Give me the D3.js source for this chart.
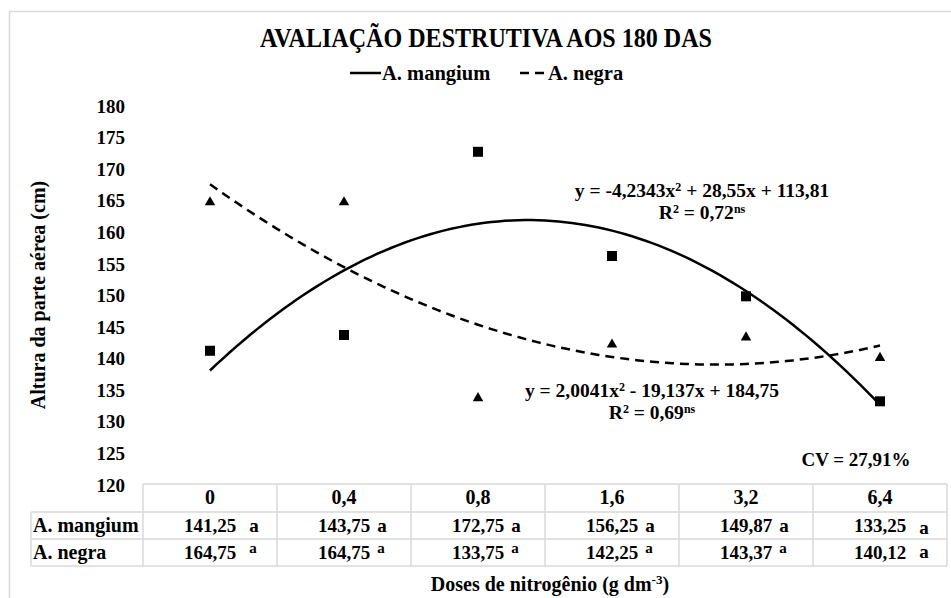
<!DOCTYPE html>
<html>
<head>
<meta charset="utf-8">
<script src="https://cdn.jsdelivr.net/npm/d3@7"></script>
<style>
  html, body { margin: 0; padding: 0; background: #fff; }
</style>
</head>
<body>
<svg id="chart" width="951" height="598"></svg>
<script>
// ---- data ----
const categories = ["0", "0,4", "0,8", "1,6", "3,2", "6,4"];
const mangium = [141.25, 143.75, 172.75, 156.25, 149.87, 133.25];
const negra = [164.75, 164.75, 133.75, 142.25, 143.37, 140.12];
const mangiumLabels = ["141,25", "143,75", "172,75", "156,25", "149,87", "133,25"];
const negraLabels = ["164,75", "164,75", "133,75", "142,25", "143,37", "140,12"];
const mangiumLetters = ["a", "a", "a", "a", "a", "a"];
const negraLetters = ["a", "a", "a", "a", "a", "a"];
const yTicks = [120, 125, 130, 135, 140, 145, 150, 155, 160, 165, 170, 175, 180];
const seriesNames = ["A. mangium", "A. negra"];
const eqMangium = { eq: "y = -4,2343x", rest: " + 28,55x + 113,81", r2: "0,72" };
const eqNegra = { eq: "y = 2,0041x", rest: " - 19,137x + 184,75", r2: "0,69" };
const cvText = "CV = 27,91%";

// ---- layout ----
const FONT = '"Liberation Serif"';
const svg = d3.select("#chart");
const plotLeft = 143, plotRight = 947, plotTop = 106, plotBottom = 485;

// outer border
svg.append("rect").attr("x", 9.5).attr("y", 11.5).attr("width", 960).attr("height", 620)
  .attr("fill", "none").attr("stroke", "#d9d9d9").attr("stroke-width", 1.5);

const x = d3.scaleBand().domain(categories).range([plotLeft, plotRight]).padding(0);
const y = d3.scaleLinear().domain([120, 180]).range([plotBottom, plotTop]);
const xi = d3.scaleLinear().domain([1, categories.length])
  .range([x(categories[0]) + x.bandwidth() / 2, x(categories[categories.length - 1]) + x.bandwidth() / 2]);

// title
svg.append("text").attr("x", 486).attr("y", 47).attr("text-anchor", "middle")
  .attr("textLength", 452).attr("lengthAdjust", "spacingAndGlyphs")
  .style("font-size", "27px").text("AVALIAÇÃO DESTRUTIVA AOS 180 DAS");

// y axis
const yAxis = d3.axisLeft(y).tickValues(yTicks).tickSize(0).tickPadding(18).tickFormat(d3.format("d"));
const gy = svg.append("g").attr("transform", `translate(${plotLeft},0)`).call(yAxis);
gy.select(".domain").remove();
gy.attr("font-family", null).attr("font-size", null);
gy.selectAll("text").style("font-size", "19px");

// y axis title
svg.append("text").attr("transform", "translate(45,295) rotate(-90)").attr("text-anchor", "middle")
  .style("font-size", "20px").text("Altura da parte aérea (cm)");

// quadratic least-squares fit over category index
function quadFit(vals) {
  let S = [0, 0, 0, 0, 0], T = [0, 0, 0];
  vals.forEach((v, i) => {
    const t = i + 1;
    for (let k = 0; k < 5; k++) S[k] += Math.pow(t, k);
    for (let k = 0; k < 3; k++) T[k] += v * Math.pow(t, k);
  });
  const A = [[S[0], S[1], S[2], T[0]], [S[1], S[2], S[3], T[1]], [S[2], S[3], S[4], T[2]]];
  for (let i = 0; i < 3; i++) {
    for (let j = i + 1; j < 3; j++) {
      const f = A[j][i] / A[i][i];
      for (let k = i; k < 4; k++) A[j][k] -= f * A[i][k];
    }
  }
  const sol = [0, 0, 0];
  for (let i = 2; i >= 0; i--) {
    let s = A[i][3];
    for (let k = i + 1; k < 3; k++) s -= A[i][k] * sol[k];
    sol[i] = s / A[i][i];
  }
  return t => sol[0] + sol[1] * t + sol[2] * t * t;
}

const fitM = quadFit(mangium), fitN = quadFit(negra);
const ts = d3.range(1, categories.length + 0.001, 0.05);
const line = d3.line().x(d => xi(d[0])).y(d => y(d[1])).curve(d3.curveLinear);

svg.append("path").datum(ts.map(t => [t, fitM(t)])).attr("d", line)
  .attr("fill", "none").attr("stroke", "#000").attr("stroke-width", 2.5);
svg.append("path").datum(ts.map(t => [t, fitN(t)])).attr("d", line)
  .attr("fill", "none").attr("stroke", "#000").attr("stroke-width", 2.5).attr("stroke-dasharray", "9,6");

// markers
svg.append("g").selectAll("rect").data(mangium).join("rect")
  .attr("x", (d, i) => x(categories[i]) + x.bandwidth() / 2 - 5)
  .attr("y", d => y(d) - 5).attr("width", 10).attr("height", 10).attr("fill", "#000");
const tri = d3.symbol().type(d3.symbolTriangle).size(48);
svg.append("g").selectAll("path").data(negra).join("path")
  .attr("transform", (d, i) => `translate(${x(categories[i]) + x.bandwidth() / 2},${y(d)})`)
  .attr("d", tri).attr("fill", "#000");

// equations
function eqText(cx, y1, eq) {
  const t1 = svg.append("text").attr("x", cx).attr("y", y1).attr("text-anchor", "middle").style("font-size", "19.5px");
  t1.append("tspan").text(eq.eq);
  t1.append("tspan").text("2").attr("dy", -6).style("font-size", "12px");
  t1.append("tspan").text(eq.rest.replace(/^ /, "\u00A0")).attr("dy", 6);
  const t2 = svg.append("text").attr("x", cx).attr("y", y1 + 22).attr("text-anchor", "middle").style("font-size", "19.5px");
  t2.append("tspan").text("R");
  t2.append("tspan").text("2").attr("dy", -6).style("font-size", "12px");
  t2.append("tspan").text("\u00A0= " + eq.r2).attr("dy", 6);
  t2.append("tspan").text("ns").attr("dy", -6).style("font-size", "12px");
}
eqText(702, 197, eqMangium);
eqText(652, 397, eqNegra);

// CV
svg.append("text").attr("x", 856).attr("y", 466).attr("text-anchor", "middle").style("font-size", "19px").text(cvText);

// legend
const lg = svg.append("g");
lg.append("line").attr("x1", 350).attr("x2", 381).attr("y1", 73).attr("y2", 73).attr("stroke", "#000").attr("stroke-width", 2.5);
lg.append("text").attr("x", 382).attr("y", 80).style("font-size", "20.5px").text(seriesNames[0]);
lg.append("line").attr("x1", 520).attr("x2", 548).attr("y1", 73).attr("y2", 73).attr("stroke", "#000").attr("stroke-width", 2.5).attr("stroke-dasharray", "9,6");
lg.append("text").attr("x", 548).attr("y", 80).style("font-size", "20.5px").text(seriesNames[1]);

// data table
const gridColor = "#d9d9d9";
const rowLines = [484, 512, 539, 566];
const tbl = svg.append("g");
tbl.append("line").attr("x1", plotLeft).attr("x2", plotRight).attr("y1", rowLines[0]).attr("y2", rowLines[0]).attr("stroke", gridColor).attr("stroke-width", 1.5);
rowLines.slice(1).forEach(yy => tbl.append("line").attr("x1", 31).attr("x2", plotRight).attr("y1", yy).attr("y2", yy).attr("stroke", gridColor).attr("stroke-width", 1.5));
tbl.append("line").attr("x1", 31).attr("x2", 31).attr("y1", rowLines[1]).attr("y2", rowLines[3]).attr("stroke", gridColor).attr("stroke-width", 1.5);
categories.forEach(c => tbl.append("line").attr("x1", x(c)).attr("x2", x(c)).attr("y1", rowLines[0]).attr("y2", rowLines[3]).attr("stroke", gridColor).attr("stroke-width", 1.5));
tbl.append("line").attr("x1", plotRight).attr("x2", plotRight).attr("y1", rowLines[0]).attr("y2", rowLines[3]).attr("stroke", gridColor).attr("stroke-width", 1.5);

tbl.selectAll("text.hdr").data(categories).join("text").attr("class", "hdr")
  .attr("x", d => x(d) + x.bandwidth() / 2).attr("y", 504).attr("text-anchor", "middle").style("font-size", "20px").text(d => d);
tbl.append("text").attr("x", 33).attr("y", 532).style("font-size", "20px").text(seriesNames[0]);
tbl.append("text").attr("x", 33).attr("y", 559).style("font-size", "20px").text(seriesNames[1]);

// numbers centred in their column, significance letter appended after a gap
const gapsPx = [13, 7, 7, 7, 7, 13];
const valFs = 19;
mangiumLabels.forEach((v, i) => {
  const cx = x(categories[i]) + x.bandwidth() / 2;
  tbl.append("text").attr("x", cx).attr("y", 532).attr("text-anchor", "middle").style("font-size", valFs + "px").text(v);
  tbl.append("text").attr("class", "letter").attr("data-i", i).attr("data-row", "m")
    .attr("y", 532 + (i === 5 ? 2 : 0)).style("font-size", valFs + "px").text(mangiumLetters[i]);
});
negraLabels.forEach((v, i) => {
  const cx = x(categories[i]) + x.bandwidth() / 2;
  tbl.append("text").attr("x", cx).attr("y", 559).attr("text-anchor", "middle").style("font-size", valFs + "px").text(v);
  tbl.append("text").attr("class", "letter").attr("data-i", i).attr("data-row", "n")
    .attr("y", i === 5 ? 558 : 553).style("font-size", i === 5 ? valFs + "px" : "15px").text(negraLetters[i]);
});

// x axis title
const xt = svg.append("text").attr("x", 550).attr("y", 591).attr("text-anchor", "middle").style("font-size", "20px");
xt.append("tspan").text("Doses de nitrogênio (g dm");
xt.append("tspan").text("-3").attr("dy", -7).style("font-size", "13px");
xt.append("tspan").text(")").attr("dy", 7);

// common text styling
svg.selectAll("text").style("font-family", FONT).style("font-weight", "bold").style("fill", "#000");

// place letters right after their (measured) numbers
const probe = svg.append("text").style("font-family", FONT).style("font-weight", "bold").style("font-size", valFs + "px");
tbl.selectAll("text.letter").each(function () {
  const el = d3.select(this);
  const i = +el.attr("data-i");
  const lbl = el.attr("data-row") === "m" ? mangiumLabels[i] : negraLabels[i];
  probe.text(lbl);
  const w = probe.node().getComputedTextLength();
  const cx = x(categories[i]) + x.bandwidth() / 2;
  el.attr("x", cx + w / 2 + gapsPx[i]);
});
probe.remove();
</script>
</body>
</html>
